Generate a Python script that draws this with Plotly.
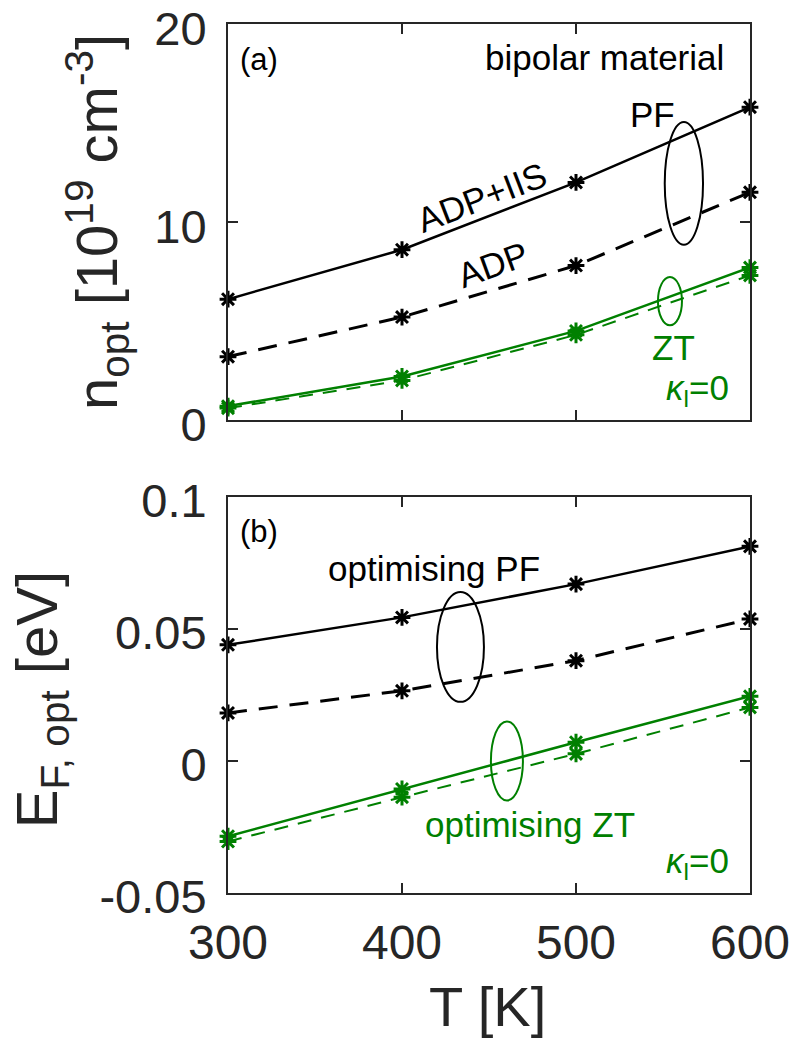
import plotly.graph_objects as go

# ---- data ----
T = [300, 400, 500, 600]
n_pf_adp_iis = [6.1, 8.6, 12.0, 15.8]
n_pf_adp = [3.2, 5.2, 7.8, 11.5]
n_zt = [0.7, 2.2, 4.5, 7.7]
n_zt_k0 = [0.6, 2.0, 4.3, 7.3]

ef_pf_adp_iis = [0.044, 0.0544, 0.067, 0.0813]
ef_pf_adp = [0.0182, 0.0266, 0.038, 0.0538]
ef_zt = [-0.0285, -0.0106, 0.0071, 0.0245]
ef_zt_k0 = [-0.0305, -0.0137, 0.0027, 0.0203]

x_ticks = [300, 400, 500, 600]
y1_ticks = [0, 10, 20]
y2_ticks = [-0.05, 0, 0.05, 0.1]
y2_ticktext = ["-0.05", "0", "0.05", "0.1"]

BLACK = "#000000"
GREEN = "#008000"
AX = "#262626"
FONT = "Liberation Sans, Arial, sans-serif"

fig = go.Figure()


def add(x, y, color, dash, width, xa, ya):
    fig.add_trace(go.Scatter(
        x=x, y=y, mode="lines+markers", xaxis=xa, yaxis=ya,
        line=dict(color=color, width=width, dash=dash),
        marker=dict(symbol="asterisk-open", size=14, color=color,
                    line=dict(width=3, color=color)),
        cliponaxis=False, showlegend=False))


add(T, n_pf_adp_iis, BLACK, "solid", 2.5, "x", "y")
add(T, n_pf_adp, BLACK, "19px,12px", 3, "x", "y")
add(T, n_zt, GREEN, "solid", 2.5, "x", "y")
add(T, n_zt_k0, GREEN, "14px,10px", 2, "x", "y")

add(T, ef_pf_adp_iis, BLACK, "solid", 2.5, "x2", "y2")
add(T, ef_pf_adp, BLACK, "19px,12px", 3, "x2", "y2")
add(T, ef_zt, GREEN, "solid", 2.5, "x2", "y2")
add(T, ef_zt_k0, GREEN, "14px,10px", 2, "x2", "y2")

axis_common = dict(
    showgrid=False, zeroline=False, showline=True, linewidth=2,
    linecolor=AX, mirror="ticks", ticks="inside", ticklen=10,
    tickwidth=2, tickcolor=AX, automargin=False, ticklabeloverflow="allow",
)
XTF = dict(family=FONT, size=48, color=AX)
YTF = dict(family=FONT, size=47, color=AX)

fig.update_layout(
    width=795, height=1043,
    margin=dict(l=228, r=45, t=24, b=150, autoexpand=False),
    paper_bgcolor="white", plot_bgcolor="white",
    font=dict(family=FONT, color=AX),
    xaxis=dict(domain=[0, 1], anchor="y", range=[300, 600],
               tickvals=x_ticks, showticklabels=False, tickfont=XTF,
               **axis_common),
    yaxis=dict(domain=[0.5443, 1], anchor="x", range=[0, 20],
               tickvals=y1_ticks, ticklabelstandoff=10, ticklabelshift=5,
               tickfont=YTF, **axis_common),
    xaxis2=dict(domain=[0, 1], anchor="y2", range=[300, 600],
                tickvals=x_ticks, ticklabelstandoff=6, tickfont=XTF,
                **axis_common),
    yaxis2=dict(domain=[0, 0.4557], anchor="x2", range=[-0.05, 0.1],
                tickvals=y2_ticks, ticktext=y2_ticktext,
                ticklabelstandoff=10, ticklabelshift=4, tickfont=YTF,
                **axis_common),
)

# ellipses (center x, center y, half width, half height)
ellipses = [
    ("x", "y", 562, 11.95, 11, 3.1, BLACK),
    ("x", "y", 554, 6.0, 6.9, 1.22, GREEN),
    ("x2", "y2", 433.6, 0.0432, 13.5, 0.0208, BLACK),
    ("x2", "y2", 460.3, 0.0, 9.2, 0.015, GREEN),
]
for xr, yr, cx, cy, hw, hh, c in ellipses:
    fig.add_shape(type="circle", xref=xr, yref=yr,
                  x0=cx - hw, x1=cx + hw, y0=cy - hh, y1=cy + hh,
                  line=dict(color=c, width=2))

A = 35
notes = [
    ("x", "y", 305.5, 18.2, "(a)", BLACK, 0, "left", 31),
    ("x", "y", 586, 18.33, "bipolar material", BLACK, 0, "right", A),
    ("x", "y", 543.7, 15.45, "PF", BLACK, 0, "center", A),
    ("x", "y", 445.4, 11.26, "ADP+IIS", BLACK, -21, "center", A),
    ("x", "y", 452.3, 7.83, "ADP", BLACK, -20, "center", A),
    ("x", "y", 556.3, 3.64, "ZT", GREEN, 0, "center", A),
    ("x", "y", 570, 1.5, "<i>κ</i><sub>l</sub>=0", GREEN, 0, "center", A),
    ("x2", "y2", 305.5, 0.0871, "(b)", BLACK, 0, "left", 31),
    ("x2", "y2", 418.4, 0.0731, "optimising PF", BLACK, 0, "center", A),
    ("x2", "y2", 473.6, -0.0242, "optimising ZT", GREEN, 0, "center", A),
    ("x2", "y2", 570, -0.0385, "<i>κ</i><sub>l</sub>=0", GREEN, 0, "center", A),
]
for xr, yr, x, y, t, c, ang, anc, fs in notes:
    fig.add_annotation(xref=xr, yref=yr, x=x, y=y, text=t, showarrow=False,
                       textangle=ang, xanchor=anc, yanchor="middle",
                       font=dict(family=FONT, size=fs, color=c))

# axis titles
TS = 58
fig.add_annotation(xref="paper", yref="paper", x=-0.251, y=0.772,
                   text="n<sub>opt</sub> [10<sup>19</sup> cm<sup>-3</sup>]",
                   textangle=-90, showarrow=False, xanchor="center",
                   yanchor="middle", font=dict(family=FONT, size=TS, color=AX))
fig.add_annotation(xref="paper", yref="paper", x=-0.358, y=0.222,
                   text="E<sub>F, opt</sub> [eV]",
                   textangle=-90, showarrow=False, xanchor="center",
                   yanchor="middle", font=dict(family=FONT, size=TS, color=AX))
fig.add_annotation(xref="paper", yref="paper", x=0.498, y=-0.131,
                   text="T [K]", showarrow=False, xanchor="center",
                   yanchor="middle", font=dict(family=FONT, size=56, color=AX))

# remove the browser's default 8px body margin so the figure fills the window
fig.write_html("out.html",
               config={"displayModeBar": False},
               post_script="document.body.style.margin='0px';")
